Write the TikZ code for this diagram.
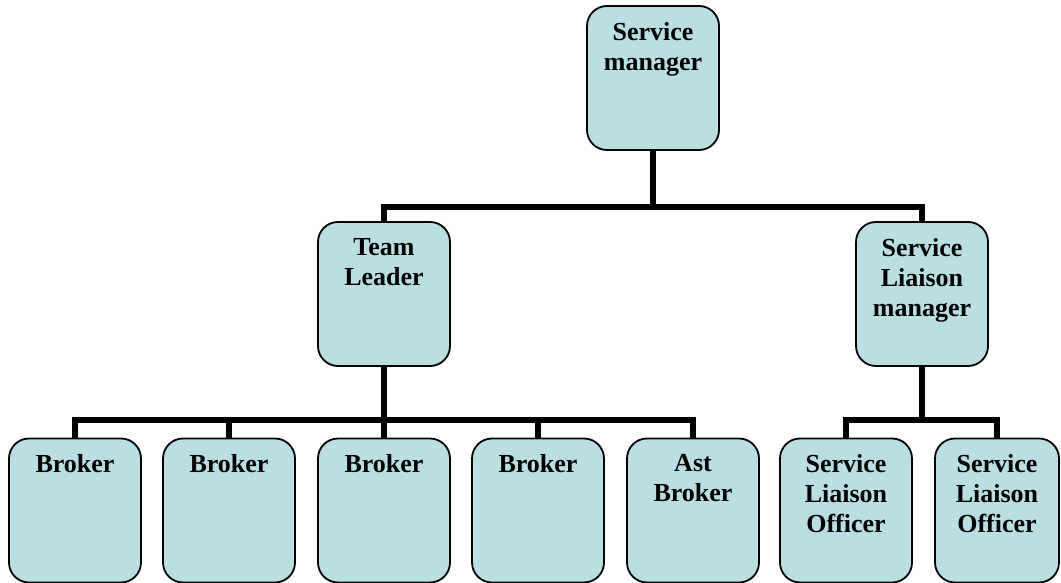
\documentclass[tikz,border=0pt]{standalone}
\usepackage{fontspec}
\setmainfont{Liberation Serif}
\definecolor{postfill}{RGB}{185,223,227}

\begin{document}
\begin{tikzpicture}[x=1pt, y=-1pt,
    post/.style={draw, line width=1.8pt, rounded corners=20pt, fill=postfill,
        minimum width=132pt, minimum height=144pt, inner sep=0pt},
    title/.style={anchor=north, align=center, inner sep=0pt, yshift=-17pt,
        font=\bfseries\fontsize{26}{30}\selectfont},
    link/.style={line width=5.5pt}]
    \useasboundingbox (0,0) rectangle (1061,583);

    % Stellen
    \node[post, label={[title]north:{Service\\manager}}] (sm) at (653,78) {};
    \node[post, label={[title]north:{Team\\Leader}}] (tl) at (384,294) {};
    \node[post, label={[title]north:{Service\\Liaison\\manager}}] (slm) at (922,294) {};

    \node[post, label={[title]north:Broker}] (b1) at (75,510.5) {};
    \node[post, label={[title]north:Broker}] (b2) at (229,510.5) {};
    \node[post, label={[title]north:Broker}] (b3) at (384,510.5) {};
    \node[post, label={[title]north:Broker}] (b4) at (538,510.5) {};
    \node[post, label={[title]north:{Ast\\Broker}}] (b5) at (693,510.5) {};
    \node[post, label={[title]north:{Service\\Liaison\\Officer}}] (slo1) at (846,510.5) {};
    \node[post, minimum width=124pt, label={[title]north:{Service\\Liaison\\Officer}}] (slo2) at (997,510.5) {};

    % Bus-Punkte
    \coordinate (topbus) at (653,207);
    \coordinate (tlbus) at (384,420);
    \coordinate (slmbus) at (922,420);

    % Service manager -> Team Leader, Liaison manager
    \draw[link] (sm.south) -- (topbus);
    \draw[link] (tl.north) |- (topbus) -| (slm.north);

    % Team Leader -> Broker
    \draw[link] (tl.south) -- (tlbus);
    \draw[link] (b1.north) |- (tlbus) -| (b5.north);
    \foreach \b in {b2,b3,b4}
        \draw[link] (\b.north) -- (\b.north |- tlbus);

    % Liaison manager -> Officer
    \draw[link] (slm.south) -- (slmbus);
    \draw[link] (slo1.north) |- (slmbus) -| (slo2.north);
\end{tikzpicture}
\end{document}
